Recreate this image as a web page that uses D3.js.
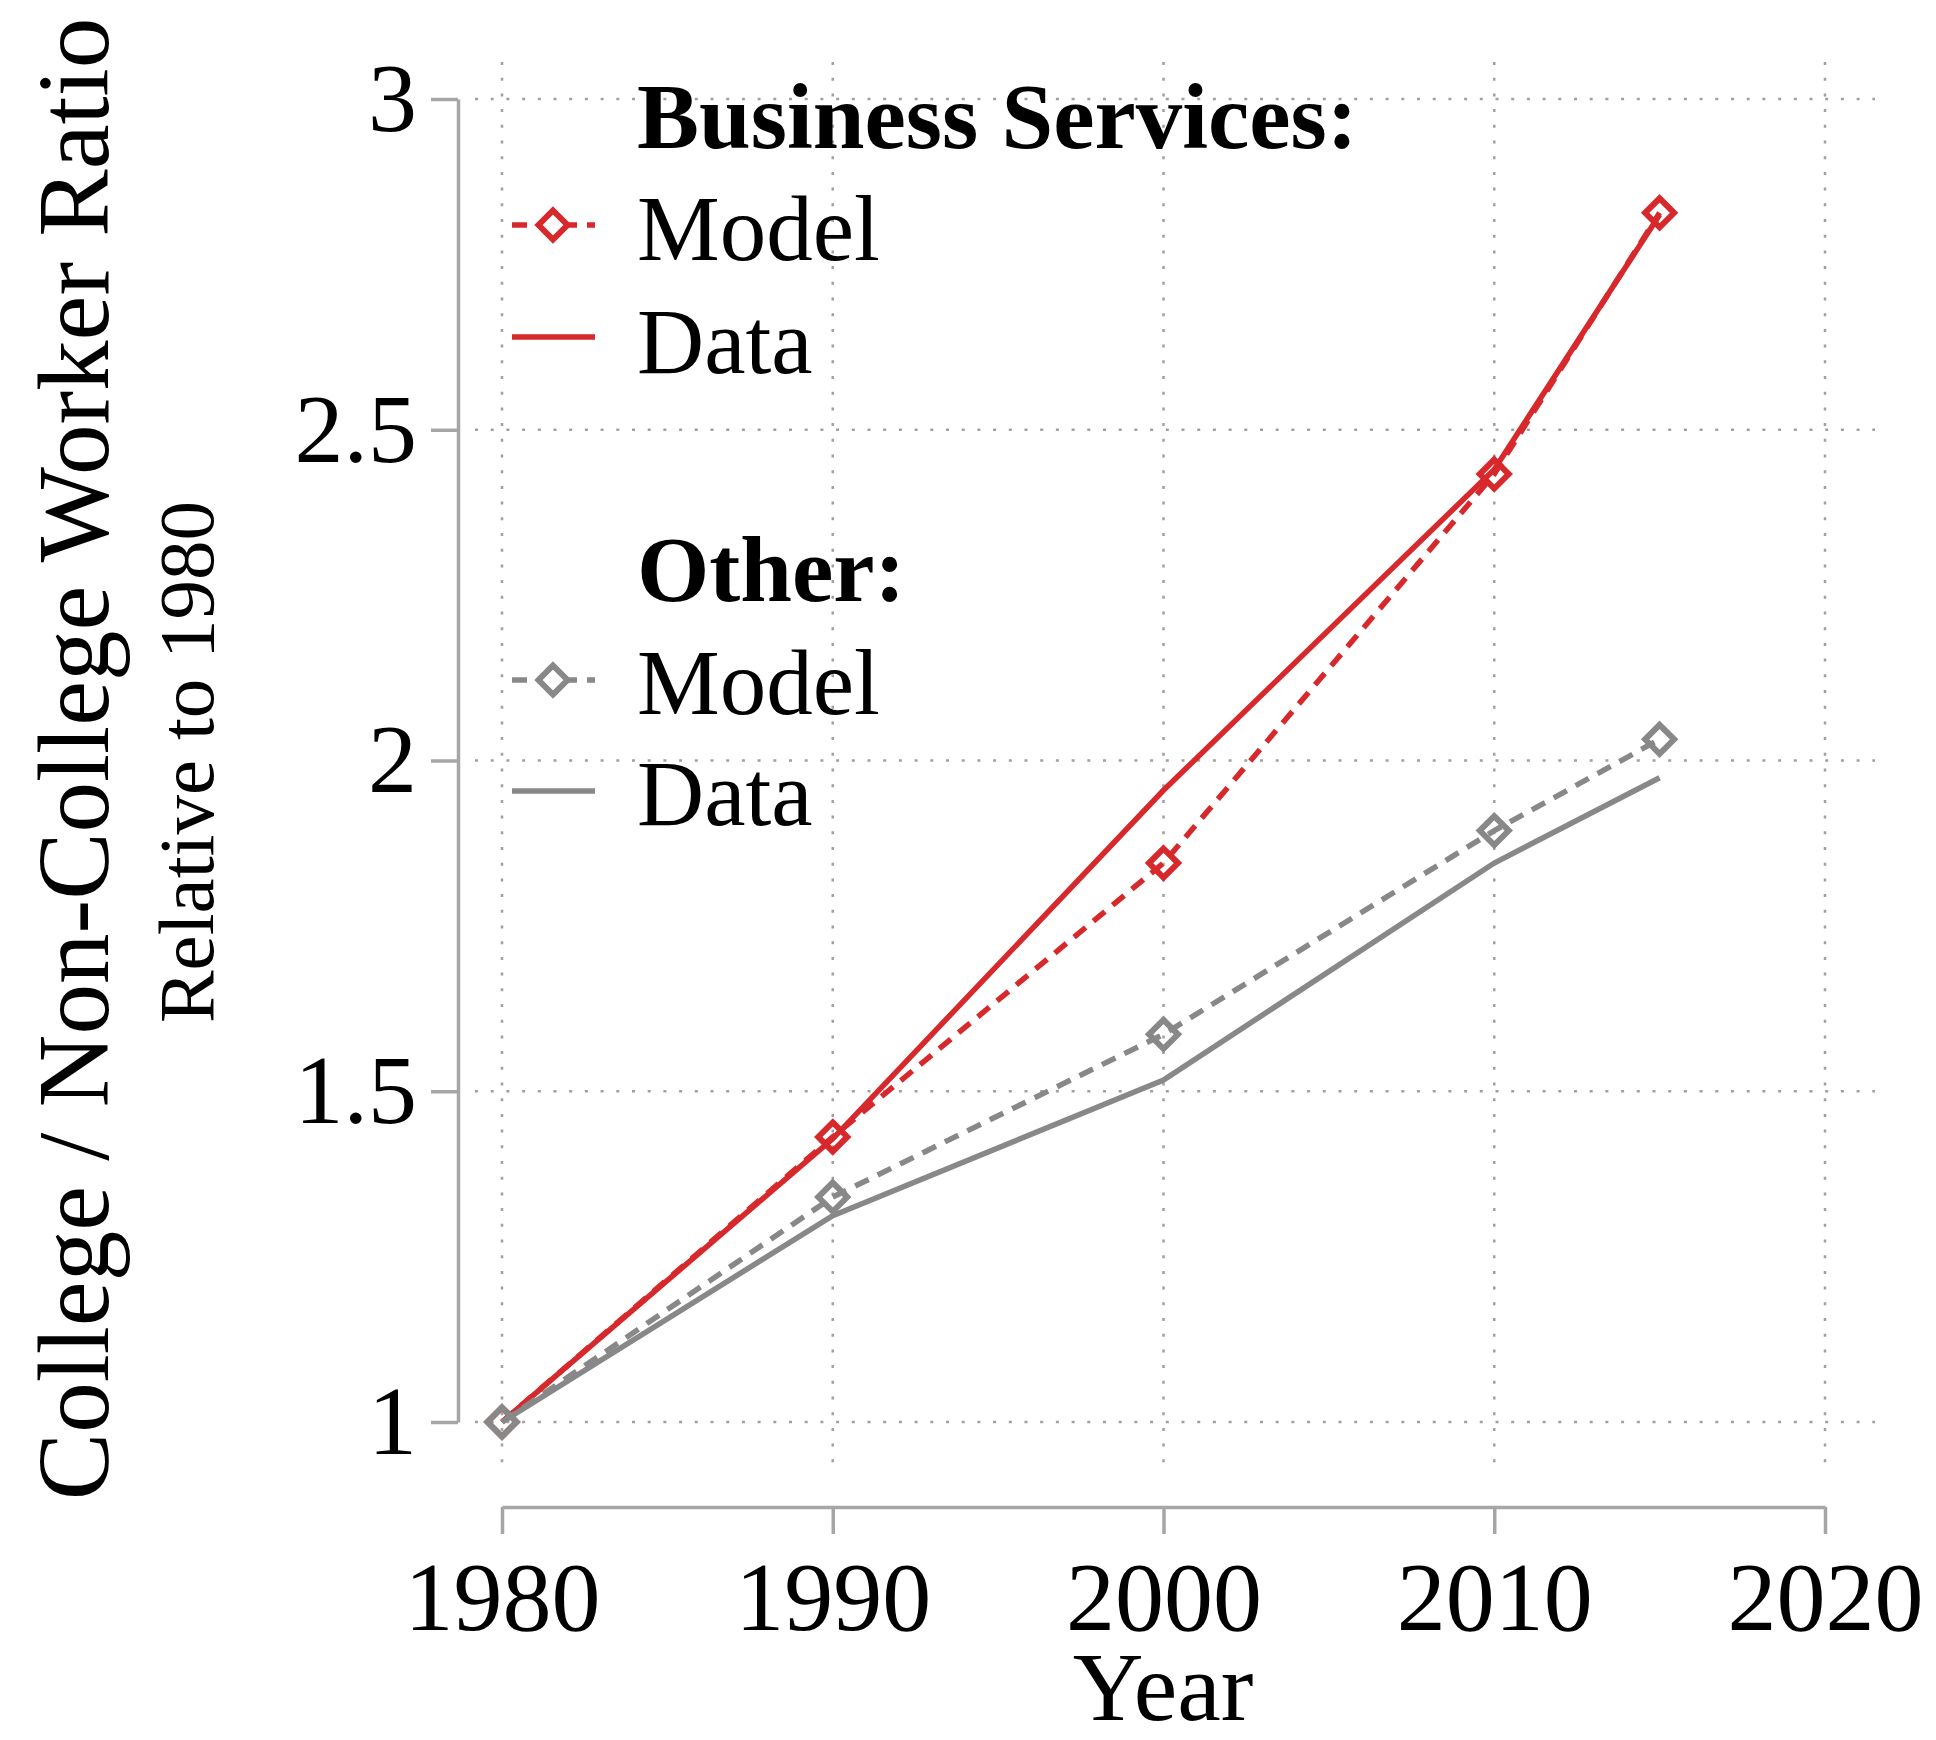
<!DOCTYPE html>
<html>
<head>
<meta charset="utf-8">
<script src="https://cdn.jsdelivr.net/npm/d3@7"></script>
<style>
  body { margin: 0; background: #fff; }
  text { font-family: "Liberation Serif", serif; fill: #000; }
</style>
</head>
<body>
<div id="chart"></div>
<script>
// values (ratio relative to 1980)
var years = [1980, 1990, 2000, 2010, 2015]
var bizModel = [1.0, 1.431, 1.845, 2.433, 2.828]
var bizData = [1.0, 1.428, 1.955, 2.44, 2.825]
var otherModel = [1.0, 1.340, 1.586, 1.894, 2.032]
var otherData = [1.0, 1.312, 1.517, 1.845, 1.974]
var xTicks = [1980, 1990, 2000, 2010, 2020]
var yTicks = [1, 1.5, 2, 2.5, 3]

var width = 1936, height = 1740
var red = "#d7282c", grey = "#888888", axisCol = "#a6a6a6"

var svg = d3.select("#chart")
  .append("svg")
    .attr("width", width)
    .attr("height", height)

var x = d3.scaleLinear().domain([1980, 2020]).range([502, 1825])
var y = d3.scaleLinear().domain([1, 3]).range([1422, 99])

// dotted grid
svg.append("g")
  .selectAll("line")
  .data(yTicks)
  .enter().append("line")
    .attr("x1", 475).attr("x2", 1875)
    .attr("y1", d => y(d)).attr("y2", d => y(d))
    .attr("stroke", "#a0a0a0")
    .attr("stroke-width", 2.5)
    .attr("stroke-dasharray", "3,12.7")
svg.append("g")
  .selectAll("line")
  .data(xTicks)
  .enter().append("line")
    .attr("x1", d => x(d)).attr("x2", d => x(d))
    .attr("y1", 62).attr("y2", 1466)
    .attr("stroke", "#a0a0a0")
    .attr("stroke-width", 2.5)
    .attr("stroke-dasharray", "3,12.7")

// axes
var yAxis = svg.append("g")
  .attr("transform", "translate(458,0)")
  .call(d3.axisLeft(y).tickValues(yTicks).tickFormat(d => d).tickSize(27).tickSizeOuter(0).tickPadding(14))
var xAxis = svg.append("g")
  .attr("transform", "translate(0,1507)")
  .call(d3.axisBottom(x).tickValues(xTicks).tickFormat(d => d).tickSize(27).tickSizeOuter(0).tickPadding(26))

;[yAxis, xAxis].forEach(function(a) {
  a.select(".domain").attr("stroke", axisCol).attr("stroke-width", 3.5)
  a.selectAll(".tick line").attr("stroke", axisCol).attr("stroke-width", 3.5)
  a.selectAll(".tick text")
    .style("font-family", "'Liberation Serif', serif")
    .style("font-size", "98px")
    .attr("fill", "#000")
})

// series (business first, other drawn on top)
var series = [
  {vals: bizData, color: red, dash: null, marker: false},
  {vals: bizModel, color: red, dash: "15,10", marker: true},
  {vals: otherData, color: grey, dash: null, marker: false},
  {vals: otherModel, color: grey, dash: "15,10", marker: true}
]

var line = d3.line()
  .x(d => x(d[0]))
  .y(d => y(d[1]))

var diamond = function(cx, cy, r) {
  return "M" + cx + "," + (cy - r) + "L" + (cx + r) + "," + cy +
    "L" + cx + "," + (cy + r) + "L" + (cx - r) + "," + cy + "Z"
}

series.forEach(function(s) {
  var pts = years.map((yr, i) => [yr, s.vals[i]])
  svg.append("path")
    .datum(pts)
    .attr("d", line)
    .attr("fill", "none")
    .attr("stroke", s.color)
    .attr("stroke-width", 5.5)
    .attr("stroke-dasharray", s.dash)
  if (s.marker) {
    svg.append("g")
      .selectAll("path")
      .data(pts)
      .enter().append("path")
        .attr("d", d => diamond(x(d[0]), y(d[1]), 14.5))
        .attr("fill", "none")
        .attr("stroke", s.color)
        .attr("stroke-width", 6)
  }
})

// legend
var legend = [
  {label: "Business Services:", bold: true, y: 148},
  {label: "Model", y: 260, color: red, dash: "15,10", marker: true, ky: 225},
  {label: "Data", y: 373, color: red, dash: null, marker: false, ky: 337},
  {label: "Other:", bold: true, y: 601},
  {label: "Model", y: 714, color: grey, dash: "15,10", marker: true, ky: 680},
  {label: "Data", y: 825, color: grey, dash: null, marker: false, ky: 791}
]

legend.forEach(function(l) {
  svg.append("text")
    .attr("x", 637)
    .attr("y", l.y)
    .style("font-size", "93px")
    .style("font-weight", l.bold ? "bold" : "normal")
    .text(l.label)
  if (l.color) {
    svg.append("line")
      .attr("x1", 512).attr("x2", 595)
      .attr("y1", l.ky).attr("y2", l.ky)
      .attr("stroke", l.color)
      .attr("stroke-width", 5.5)
      .attr("stroke-dasharray", l.dash)
    if (l.marker) {
      svg.append("path")
        .attr("d", diamond(553, l.ky, 14.5))
        .attr("fill", "#fff")
        .attr("stroke", l.color)
        .attr("stroke-width", 6)
    }
  }
})

// titles
svg.append("text")
  .attr("transform", "translate(108,759) rotate(-90)")
  .attr("text-anchor", "middle")
  .style("font-size", "101px")
  .text("College / Non-College Worker Ratio")
svg.append("text")
  .attr("transform", "translate(213,762) rotate(-90)")
  .attr("text-anchor", "middle")
  .style("font-size", "79px")
  .text("Relative to 1980")
svg.append("text")
  .attr("x", 1163)
  .attr("y", 1720)
  .attr("text-anchor", "middle")
  .style("font-size", "98px")
  .text("Year")
</script>
</body>
</html>
